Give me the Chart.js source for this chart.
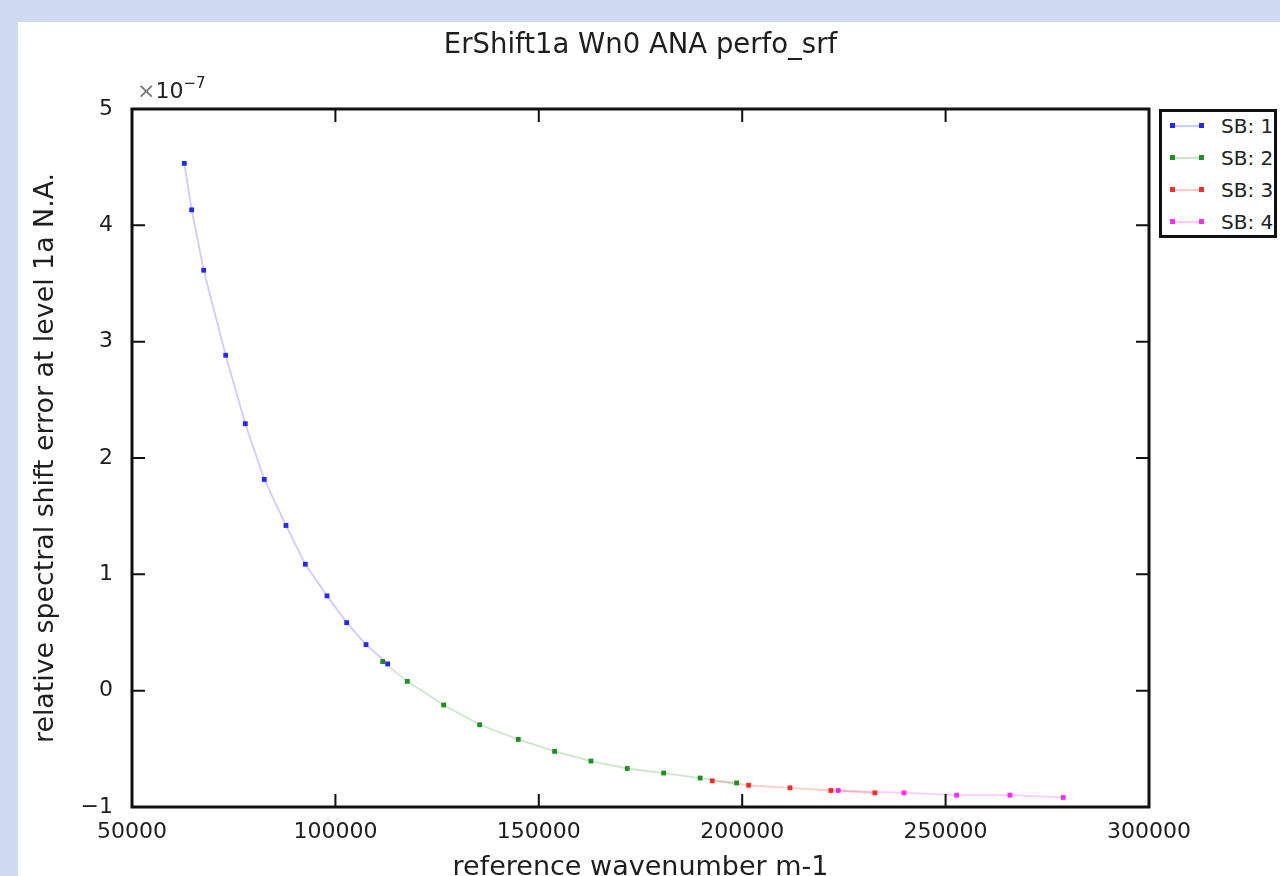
<!DOCTYPE html>
<html>
<head>
<meta charset="utf-8">
<script src="https://cdn.jsdelivr.net/npm/chart.js@4.4.1/dist/chart.umd.min.js"></script>
<style>
  html, body { margin: 0; padding: 0; width: 1280px; height: 876px; overflow: hidden; background: #cfdaf1; font-family: "DejaVu Sans", sans-serif; }
  #panel { position: absolute; left: 18px; top: 22px; width: 1262px; height: 900px; background: #fff; }
  #exp { position: absolute; left: 119px; top: 54px; font-size: 22px; color: #222; white-space: nowrap; }
  #exp .x { color: #777; }
  #exp sup { font-size: 15px; position: relative; top: -2px; }
  #legend { position: absolute; left: 1141px; top: 87px; width: 118px; height: 129px; box-sizing: border-box; border: 3px solid #111; background: #fff; }
  .row { position: absolute; left: 0; width: 112px; height: 32px; }
  .row .ln { position: absolute; left: 9px; top: 15px; width: 31px; height: 2px; }
  .row .mk { position: absolute; top: 13px; width: 5px; height: 5px; }
  .row .tx { position: absolute; left: 59px; top: 0; line-height: 32px; font-size: 20px; color: #222; }
</style>
</head>
<body>
<div id="panel">
  <canvas id="chart" width="1262" height="900"></canvas>
  <div id="exp"><span class="x">×</span>10<sup>−7</sup></div>
  <div id="legend"></div>
</div>
<script>
// values are in units of 1e-7
const sb1X = [62860, 64670, 67620, 73030, 77850, 82520, 87850, 92600, 97930, 102770, 107520, 112850];
const sb1Y = [4.533, 4.133, 3.614, 2.883, 2.295, 1.816, 1.420, 1.087, 0.815, 0.585, 0.396, 0.230];
const sb2X = [111620, 117670, 126620, 135470, 144950, 153900, 162820, 171750, 180690, 189660, 198640];
const sb2Y = [0.250, 0.080, -0.123, -0.293, -0.419, -0.522, -0.605, -0.669, -0.708, -0.751, -0.793];
const sb3X = [192640, 201580, 211740, 221810, 232630];
const sb3Y = [-0.775, -0.813, -0.835, -0.858, -0.878];
const sb4X = [223610, 239760, 252710, 265810, 278910];
const sb4Y = [-0.858, -0.878, -0.898, -0.898, -0.918];

const seriesNames = ["SB: 1", "SB: 2", "SB: 3", "SB: 4"];
const markColors = ["#2626ff", "#1f8f1f", "#ff2a2a", "#ff2aff"];
const lineColors = ["rgba(0,0,255,0.2)", "rgba(0,128,0,0.2)", "rgba(255,0,0,0.2)", "rgba(255,0,255,0.2)"];

const xTicks = [50000, 100000, 150000, 200000, 250000, 300000];
const yTicks = [-1, 0, 1, 2, 3, 4, 5];

const font = "DejaVu Sans";
const textColor = "#1e1e1e";

function pts(xs, ys) {
  return xs.map((x, i) => ({ x: x, y: ys[i] }));
}
const allX = [sb1X, sb2X, sb3X, sb4X];
const allY = [sb1Y, sb2Y, sb3Y, sb4Y];

const datasets = seriesNames.map((name, i) => ({
  label: name,
  data: pts(allX[i], allY[i]),
  borderColor: lineColors[i],
  borderWidth: 1.8,
  backgroundColor: markColors[i],
  pointBackgroundColor: markColors[i],
  pointBorderWidth: 0,
  pointStyle: "rect",
  pointRadius: 3.4,
  tension: 0,
  showLine: true,
}));

// inward ticks on all four sides plus the black frame
const frameTicks = {
  id: "frameTicks",
  afterDatasetsDraw(chart) {
    const { ctx, chartArea: a, scales: { x, y } } = chart;
    ctx.save();
    ctx.strokeStyle = "#111";
    ctx.lineWidth = 2;
    ctx.beginPath();
    xTicks.forEach(v => {
      const px = x.getPixelForValue(v);
      ctx.moveTo(px, a.bottom); ctx.lineTo(px, a.bottom - 13);
      ctx.moveTo(px, a.top); ctx.lineTo(px, a.top + 13);
    });
    yTicks.forEach(v => {
      const py = y.getPixelForValue(v);
      ctx.moveTo(a.left, py); ctx.lineTo(a.left + 13, py);
      ctx.moveTo(a.right, py); ctx.lineTo(a.right - 13, py);
    });
    ctx.stroke();
    ctx.lineWidth = 3;
    ctx.strokeRect(a.left, a.top, a.right - a.left, a.bottom - a.top);
    ctx.restore();
  }
};

new Chart(document.getElementById("chart").getContext("2d"), {
  type: "scatter",
  data: { datasets: datasets },
  options: {
    responsive: false,
    animation: false,
    devicePixelRatio: 1,
    layout: { padding: { left: 0, top: 0, right: 131, bottom: 0 } },
    plugins: {
      legend: { display: false },
      tooltip: { enabled: false },
      title: {
        display: true,
        text: "ErShift1a Wn0 ANA perfo_srf",
        fullSize: false,
        color: textColor,
        font: { family: font, size: 27.5, weight: "normal" },
        padding: { top: 7, bottom: 47 },
      },
    },
    scales: {
      x: {
        type: "linear",
        min: 50000,
        max: 300000,
        afterFit(scale) { scale.height = 115; },
        afterBuildTicks(scale) { scale.ticks = xTicks.map(v => ({ value: v })); },
        grid: { display: false, drawTicks: false },
        border: { display: false },
        ticks: {
          padding: 12,
          color: textColor,
          font: { family: font, size: 22 },
          maxRotation: 0,
          callback: v => String(v),
        },
        title: {
          display: true,
          text: "reference wavenumber m-1",
          color: textColor,
          font: { family: font, size: 27 },
          padding: { top: 0, bottom: 38 },
        },
      },
      y: {
        type: "linear",
        min: -1,
        max: 5,
        afterFit(scale) { scale.width = 114; },
        afterBuildTicks(scale) { scale.ticks = yTicks.map(v => ({ value: v })); },
        grid: { display: false, drawTicks: false },
        border: { display: false },
        ticks: {
          padding: 19,
          color: textColor,
          font: { family: font, size: 22 },
          callback: v => (v < 0 ? "\u2212" + Math.abs(v) : String(v)),
        },
        title: {
          display: true,
          text: "relative spectral shift error at level 1a N.A.",
          color: textColor,
          font: { family: font, size: 26.8 },
          padding: { top: 12, bottom: 0 },
        },
      },
    },
  },
  plugins: [frameTicks],
});

// legend box built from the same series
const legend = document.getElementById("legend");
seriesNames.forEach((name, i) => {
  const row = document.createElement("div");
  row.className = "row";
  row.style.top = (-2 + i * 32) + "px";
  row.innerHTML =
    '<div class="ln" style="background:' + lineColors[i] + '"></div>' +
    '<div class="mk" style="left:8px;background:' + markColors[i] + '"></div>' +
    '<div class="mk" style="left:37px;background:' + markColors[i] + '"></div>' +
    '<div class="tx">' + name + '</div>';
  legend.appendChild(row);
});
</script>
</body>
</html>
